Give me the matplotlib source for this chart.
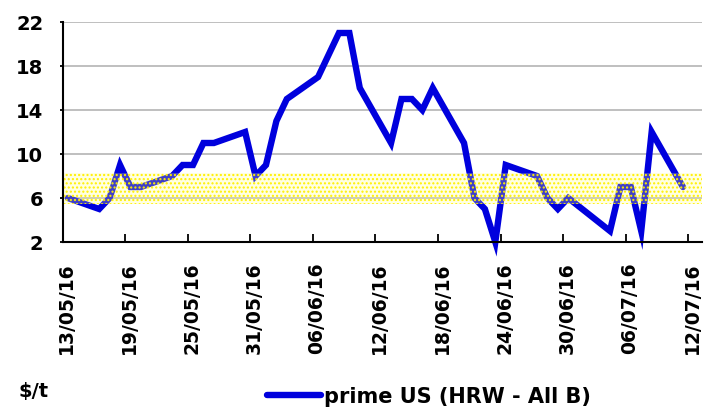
import matplotlib
matplotlib.use("Agg")
import matplotlib.pyplot as plt
import matplotlib.dates as mdates
import matplotlib.transforms as mtransforms
from matplotlib.ticker import FixedLocator
import pandas as pd

# daily quotes, $/t
dates = ["13/05/16", "16/05/16", "17/05/16", "18/05/16", "19/05/16", "20/05/16",
         "23/05/16", "24/05/16", "25/05/16", "26/05/16", "27/05/16", "30/05/16",
         "31/05/16", "01/06/16", "02/06/16", "03/06/16", "06/06/16", "08/06/16",
         "09/06/16", "10/06/16", "13/06/16", "14/06/16", "15/06/16", "16/06/16",
         "17/06/16", "20/06/16", "21/06/16", "22/06/16", "23/06/16", "24/06/16",
         "27/06/16", "28/06/16", "29/06/16", "30/06/16", "04/07/16", "05/07/16",
         "06/07/16", "07/07/16", "08/07/16", "11/07/16"]
values = [6, 5, 6, 9, 7, 7,
          8, 9, 9, 11, 11, 12,
          8, 9, 13, 15, 17, 21,
          21, 16, 11, 15, 15, 14,
          16, 11, 6, 5, 2, 9,
          8, 6, 5, 6, 3, 7,
          7, 3, 12, 7]
series_name = "prime US (HRW - All B)"
unit_label = "$/t"
band_low, band_high = 5.5, 8.3
y_ticks = [2, 6, 10, 14, 18, 22]

x = pd.to_datetime(dates, format="%d/%m/%y") + pd.Timedelta(hours=12)
start = pd.Timestamp("2016-05-13")

fig = plt.figure(figsize=(7.06, 4.14), dpi=100)
ax = fig.add_axes([62.7 / 706, 1 - 243 / 414, 639 / 706, 220 / 414])

ax.plot(x, values, color="#0000DD", lw=4.6, solid_joinstyle="miter",
        solid_capstyle="round", clip_on=False, zorder=3, label=series_name)

# yellow dotted band drawn over the line
ax.axhspan(band_low, band_high, facecolor=(1, 1, 0.55, 0.25), edgecolor="#FFF000",
           hatch="....", lw=0, zorder=4)

ax.set_ylim(2, 22)
ax.set_yticks(y_ticks)
ax.set_xlim(start, start + pd.Timedelta(days=61.3))
ax.xaxis.set_major_locator(FixedLocator(
    mdates.date2num(pd.date_range(start, periods=11, freq="6D"))))
ax.xaxis.set_major_formatter(mdates.DateFormatter("%d/%m/%y"))

ax.grid(axis="y", color="#B4B4B4", lw=1.2, zorder=1)
for s in ["top", "right"]:
    ax.spines[s].set_visible(False)
for s in ["left", "bottom"]:
    ax.spines[s].set_linewidth(1.5)
    ax.spines[s].set_zorder(5)

ax.tick_params(axis="x", direction="in", length=6, width=1.3, pad=14)
ax.tick_params(axis="y", direction="out", length=2, width=1.3, pad=12)
for lab in ax.get_yticklabels():
    lab.set_fontsize(14)
    lab.set_fontweight("bold")
shift = mtransforms.ScaledTranslation(4 / 100, 0, fig.dpi_scale_trans)
for lab in ax.get_xticklabels():
    lab.set_fontsize(13.5)
    lab.set_fontweight("bold")
    lab.set_rotation(90)
    lab.set_transform(lab.get_transform() + shift)

fig.text(19 / 706, 1 - 392 / 414, unit_label, fontsize=14, fontweight="bold",
         va="center", ha="left")
fig.legend(loc="center left", bbox_to_anchor=(267 / 706, 1 - 397 / 414),
           frameon=False, handlelength=2.6, handletextpad=0.15, borderpad=0,
           borderaxespad=0, prop={"size": 15, "weight": "bold"})

fig.savefig("out.png", dpi=100)
